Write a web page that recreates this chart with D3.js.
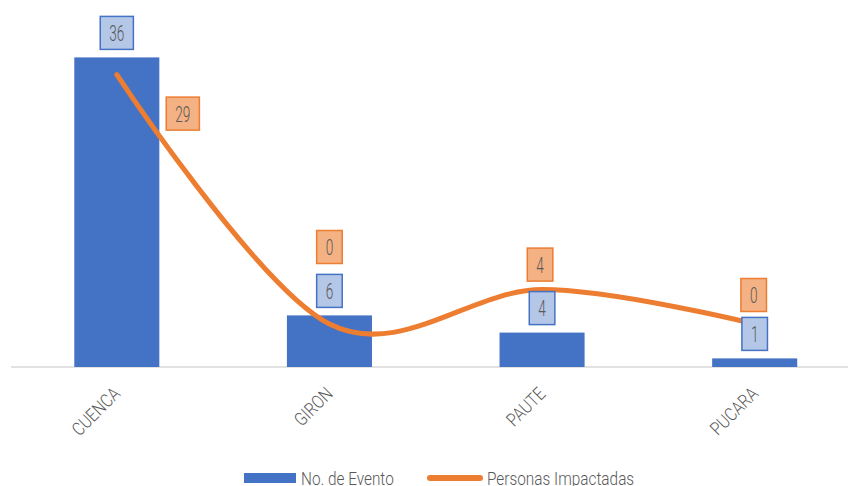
<!DOCTYPE html>
<html>
<head>
<meta charset="utf-8">
<script src="https://cdn.jsdelivr.net/npm/d3@7"></script>
<style>
  body { margin: 0; background: #fff; }
  text { font-family: Roboto, "Open Sans", sans-serif; font-weight: 300; fill: #595959; }
</style>
</head>
<body>
<div id="chart"></div>
<script>
const categories = ["CUENCA", "GIRON", "PAUTE", "PUCARA"];
const eventos = [36, 6, 4, 1];
const personas = [29, 0, 4, 0];
const seriesNames = ["No. de Evento", "Personas Impactadas"];

const W = 848, H = 486;
const blue = "#4472c4", orange = "#ed7d31";
const sx = 0.83; // narrow look of the original font

const svg = d3.select("#chart").append("svg")
  .attr("width", W).attr("height", H);

const x = d3.scaleBand()
  .domain(categories)
  .range([10.5, 861])
  .paddingInner(0.6)
  .paddingOuter(0.3);

const y = d3.scaleLinear().domain([0, 40]).range([367, 23]);
// secondary axis (hidden) for the line
const y2 = d3.scaleLinear().domain([-5, 35]).range([367, 23]);

// narrow text helper
function ntext(g, str, size, scale, anchor) {
  return g.append("text")
    .attr("transform", `scale(${scale},1)`)
    .attr("text-anchor", anchor || "middle")
    .style("font-size", size + "px")
    .text(str);
}

// axis line
svg.append("line")
  .attr("x1", 11).attr("x2", W)
  .attr("y1", y(0)).attr("y2", y(0))
  .attr("stroke", "#d9d9d9").attr("stroke-width", 1.5);

// bars
svg.selectAll(".bar")
  .data(eventos)
  .join("rect")
  .attr("class", "bar")
  .attr("x", (d, i) => x(categories[i]))
  .attr("y", d => y(d))
  .attr("width", x.bandwidth())
  .attr("height", d => y(0) - y(d))
  .attr("fill", blue);

// line
const line = d3.line()
  .x((d, i) => x(categories[i]) + x.bandwidth() / 2)
  .y(d => y2(d))
  .curve(d3.curveCardinal.tension(0));

svg.append("path")
  .datum(personas)
  .attr("fill", "none")
  .attr("stroke", orange)
  .attr("stroke-width", 5)
  .attr("stroke-linecap", "round")
  .attr("d", line);

// data label box centred at (cx, cy)
function labelBox(cx, cy, str, fill, stroke) {
  const g = svg.append("g").attr("transform", `translate(${cx},${cy})`);
  const r = g.append("rect");
  const t = ntext(g, str, 22, 0.62).attr("y", 8);
  const w = t.node().getComputedTextLength() * 0.62 + 18;
  const h = 33;
  r.attr("x", -w / 2).attr("y", -h / 2).attr("width", w).attr("height", h)
    .attr("fill", fill).attr("stroke", stroke).attr("stroke-width", 1.5);
}

eventos.forEach((d, i) => {
  const cx = x(categories[i]) + x.bandwidth() / 2;
  labelBox(cx, y(d) - 8 - 16.5, d, "#b4c7e7", blue);
});

// label offsets from each point, as placed in the original
const personasOffset = [[66, 39], [0, -77], [-2, -25], [-1, -29]];
personas.forEach((d, i) => {
  const cx = x(categories[i]) + x.bandwidth() / 2;
  labelBox(cx + personasOffset[i][0], y2(d) + personasOffset[i][1], d, "#f4b183", orange);
});

// category labels
categories.forEach(c => {
  const g = svg.append("g")
    .attr("transform", `translate(${x(c) + x.bandwidth() / 2 + 4.5},395) rotate(-45)`);
  ntext(g, c, 18.5, sx, "end");
});

// legend
const lg = svg.append("g");
lg.append("rect")
  .attr("x", 244).attr("y", 473).attr("width", 52).attr("height", 10)
  .attr("fill", blue);
ntext(lg.append("g").attr("transform", "translate(301,485)"), seriesNames[0], 18.5, sx, "start");
lg.append("line")
  .attr("x1", 430).attr("x2", 480).attr("y1", 478).attr("y2", 478)
  .attr("stroke", orange).attr("stroke-width", 6).attr("stroke-linecap", "round");
ntext(lg.append("g").attr("transform", "translate(487,485)"), seriesNames[1], 18.5, sx, "start");
</script>
</body>
</html>
